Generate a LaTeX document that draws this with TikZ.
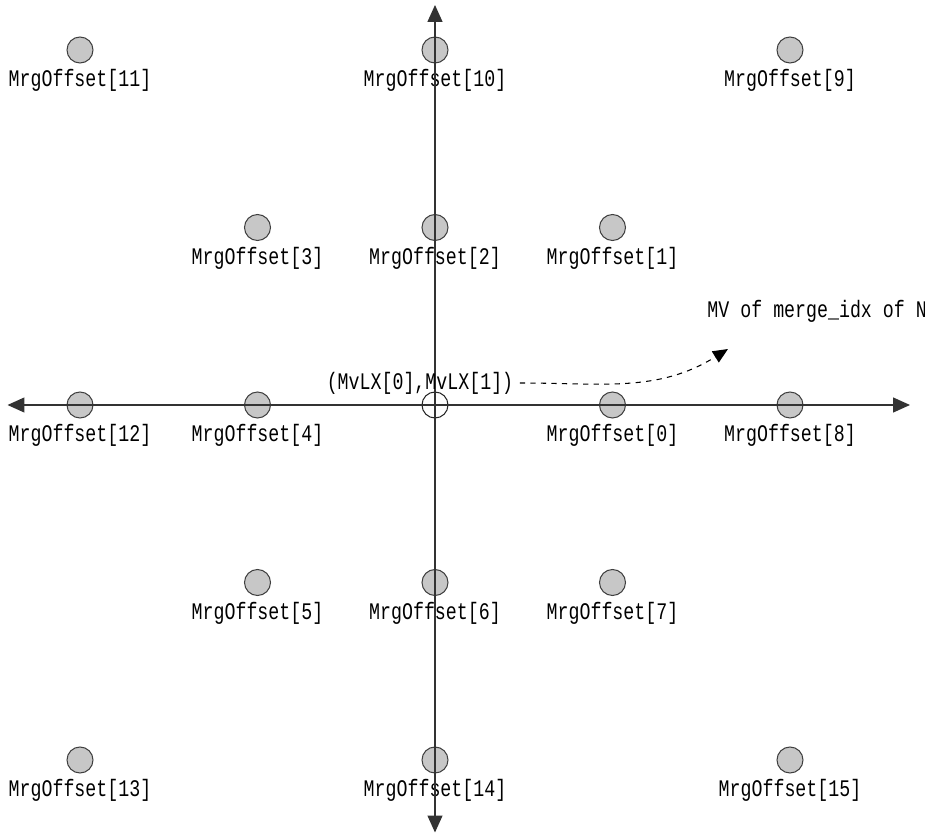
\documentclass[tikz,border=0pt]{standalone}
\usepackage{fontspec}
\setmonofont{Liberation Mono}
\usetikzlibrary{arrows.meta}

\newcommand{\tall}[1]{\scalebox{1}[1.3]{#1}}

\begin{document}
\begin{tikzpicture}[line width=0.8pt,
    font=\ttfamily\fontsize{10.4}{12}\selectfont,
    pt/.style={circle, draw=black!75, fill=black!22, minimum size=0.52cm, inner sep=0pt, line width=0.6pt},
    orig/.style={circle, draw=black!85, minimum size=0.52cm, inner sep=0pt, line width=0.6pt},
    lbl/.style={anchor=north, inner sep=1pt, yshift=-2pt},
    axis/.style={black!80, {Triangle[length=0.34cm,width=0.3cm]}-{Triangle[length=0.34cm,width=0.3cm]}}]
  \useasboundingbox (-8.7,-8.64) rectangle (9.8,8.1);
  % origin
  \node[orig] (o) at (0,0) {};
  % merge offsets
  \foreach \i/\gx/\gy in {0/1/0, 1/1/1, 2/0/1, 3/-1/1, 4/-1/0, 5/-1/-1, 6/0/-1, 7/1/-1,
      8/2/0, 9/2/2, 10/0/2, 11/-2/2, 12/-2/0, 13/-2/-2, 14/0/-2, 15/2/-2} {
    \node[pt] (p\i) at (3.55*\gx,3.55*\gy) {};
    \node[lbl] (t\i) at (p\i.south) {\tall{MrgOffset[\i]}};
  }
  % axes
  \coordinate (xl) at (-8.55,0);
  \coordinate (xr) at (9.5,0);
  \coordinate (yt) at (0,8.0);
  \coordinate (yb) at (0,-8.55);
  \draw[axis] (xl) -- (xr);
  \draw[axis] (yb) -- (yt);
  % merge candidate label
  \node (mvlx) at (-0.3,0.44) {\tall{(MvLX[0],MvLX[1])}};
  \node[anchor=south west, inner sep=1pt] (mv) at (5.4,1.6) {\tall{MV of merge\_idx of N}};
  \coordinate (tip) at (5.86,1.12);
  \draw[dashed, line width=0.6pt, -{Triangle[length=0.3cm,width=0.26cm]}]
    (mvlx.east) to[out=0,in=212] (tip);
\end{tikzpicture}
\end{document}
